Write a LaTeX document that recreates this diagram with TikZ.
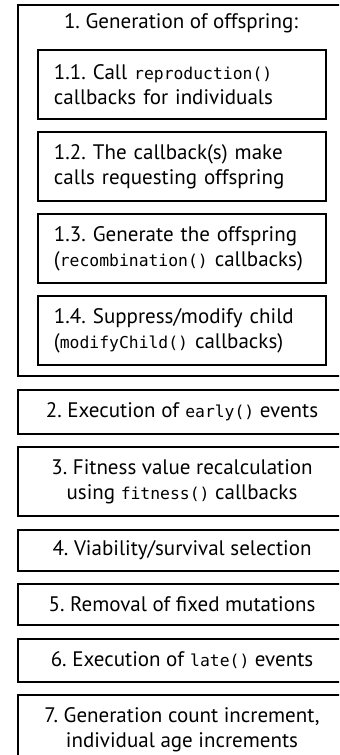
\documentclass[tikz,border=0pt]{standalone}
\usepackage{fontspec}
\setmainfont{PT Sans}
\setmonofont{DejaVu Sans Mono}[Scale=0.78]
\usetikzlibrary{positioning}
\frenchspacing

\begin{document}
\begin{tikzpicture}[x=1pt, y=1pt, line width=1pt,
    font=\fontsize{10.5}{12.5}\selectfont,
    stagebox/.style={draw, rectangle, minimum width=164pt, inner sep=0pt, align=center},
    substep/.style={draw, rectangle, text width=128pt, inner xsep=8pt, inner ysep=0pt, minimum height=34.5pt, align=left}]
    \useasboundingbox (0,0) rectangle (169.5,-377.5);
    \clip (0,0) rectangle (169.5,-377.5);

    % generation of offspring, with its sub-steps
    \node[stagebox, anchor=north west, minimum height=185.5pt] (gen) at (8.5,-2) {};
    \node (gentitle) at (90.5,-11.5) {1. Generation of offspring:};
    \node[substep, anchor=north west] (call) at (18.5,-24.5) {1.1. Call \texttt{reproduction()}\\callbacks for individuals};
    \node[substep, below=5.5pt of call] (request) {1.2. The callback(s) make\\calls requesting offspring};
    \node[substep, below=5.5pt of request] (generate) {1.3. Generate the offspring\\\mbox{(\texttt{recombination()} callbacks)}};
    \node[substep, below=5.5pt of generate] (modify) {1.4. Suppress/modify child\\(\texttt{modifyChild()} callbacks)};

    % remaining stages of the generation cycle
    \node[stagebox, minimum height=22pt, below=5.75pt of gen] (early) {2. Execution of \texttt{early()} events};
    \node[stagebox, minimum height=34.5pt, below=5.75pt of early] (fitness) {3. Fitness value recalculation\\using \texttt{fitness()} callbacks};
    \node[stagebox, minimum height=20.5pt, below=5.75pt of fitness] (viability) {4. Viability/survival selection};
    \node[stagebox, minimum height=20.5pt, below=5.75pt of viability] (fixed) {5. Removal of fixed mutations};
    \node[stagebox, minimum height=21.5pt, below=5.75pt of fixed] (late) {6. Execution of \texttt{late()} events};
    \node[stagebox, minimum height=34.5pt, below=5.75pt of late] (increment) {7. Generation count increment,\\individual age increments};
\end{tikzpicture}
\end{document}
